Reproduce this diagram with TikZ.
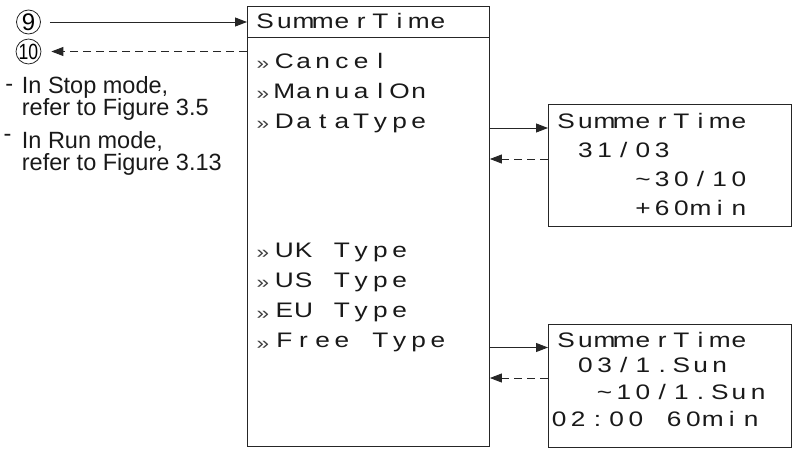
\documentclass[tikz,border=0pt]{standalone}
\usepackage{fontspec}
\setmainfont{Liberation Sans}
\newfontfamily\lcdfam[FakeStretch=1.25]{Liberation Sans}
\usetikzlibrary{arrows.meta}
\newlength\lcdw \setlength\lcdw{19.2pt}
\ExplSyntaxOn
\NewDocumentCommand\lcd{m}{\str_map_inline:nn {#1}{\str_if_eq:nnTF{##1}{_}{\hspace{\lcdw}}{\makebox[\lcdw][c]{##1}}}}
\ExplSyntaxOff
\newcommand\lcdfont{\lcdfam\fontsize{21pt}{21pt}\selectfont}
\newcommand\mk{\makebox[\lcdw][l]{\hspace{1pt}\raisebox{-1.5pt}{\color{black!75}\fontsize{18pt}{18pt}\selectfont »}}}
\begin{document}
\begin{tikzpicture}[x=1pt,y=-1pt,
  box/.style={draw=black!85,line width=0.9pt,inner sep=0pt,anchor=north west},
  lcdtxt/.style={anchor=base west,inner sep=0pt,font=\lcdfont,text=black!90},
  note/.style={anchor=base west,inner sep=0pt,font=\fontsize{23.5pt}{23.5pt}\selectfont,text=black!90},
  circ/.style={draw=black!85,circle,line width=0.8pt,inner sep=0pt,minimum size=24pt},
  conn/.style={draw=black!85,line width=0.9pt,-{Triangle[length=12pt,width=9pt]}},
  dsh/.style={dash pattern=on 8pt off 5pt}]
\useasboundingbox (0,0) rectangle (794,450);
% main menu box
\node[box,minimum width=242pt,minimum height=30.7pt] (head) at (247,6) {};
\node[box,minimum width=242pt,minimum height=409.3pt] (body) at (247,36.7) {};
\node[lcdtxt] (mtitle) at (255.4,28.3) {\lcd{SummerTime}};
\node[lcdtxt] (mcancel) at (255.4,68.3) {\mk\lcd{Cancel}};
\node[lcdtxt] (mmanual) at (255.4,98.3) {\mk\lcd{ManualOn}};
\node[lcdtxt] (mdata) at (255.4,128.3) {\mk\lcd{DataType}};
\node[lcdtxt] (muk) at (255.4,257.2) {\mk\lcd{UK_Type}};
\node[lcdtxt] (mus) at (255.4,287.4) {\mk\lcd{US_Type}};
\node[lcdtxt] (meu) at (255.4,317.5) {\mk\lcd{EU_Type}};
\node[lcdtxt] (mfree) at (255.4,347.7) {\mk\lcd{Free_Type}};
% right box 1
\node[box,minimum width=243pt,minimum height=122pt] (b1) at (548,104) {};
\node[lcdtxt] (b1a) at (556.4,128.3) {\lcd{SummerTime}};
\node[lcdtxt] (b1b) at (556.4,157.3) {\lcd{_31/03}};
\node[lcdtxt] (b1c) at (556.4,186.7) {\lcd{____~30/10}};
\node[lcdtxt] (b1d) at (556.4,215) {\lcd{____+60min}};
% right box 2
\node[box,minimum width=243pt,minimum height=123pt] (b2) at (548,324) {};
\node[lcdtxt] (b2a) at (556.4,347.7) {\lcd{SummerTime}};
\node[lcdtxt] (b2b) at (556.4,372.5) {\lcd{_03/1.Sun}};
\node[lcdtxt] (b2c) at (556.4,399.5) {\lcd{__~10/1.Sun}};
\node[lcdtxt] (b2d) at (549.3,426.5) {\lcd{02:00_60min}};
% circled numbers
\node[circ,font=\fontsize{24pt}{24pt}\selectfont] (n9) at (28.5,22) {9};
\node[circ,font=\fontsize{22pt}{22pt}\selectfont] (n10) at (28.5,51.5) {\scalebox{0.8}[1]{10}};
% notes
\node[note,anchor=base] (d1) at (9.2,91.5) {-};
\node[note] (s1) at (21.7,93.3) {In Stop mode,};
\node[note] (s2) at (21.7,115) {refer to Figure 3.5};
\node[note,anchor=base] (d2) at (7.5,141.3) {-};
\node[note] (r1) at (21.7,148.3) {In Run mode,};
\node[note] (r2) at (21.7,170) {refer to Figure 3.13};
% connectors
\coordinate (ya) at (0,128);
\coordinate (yb) at (0,159);
\coordinate (yc) at (0,347.5);
\coordinate (yd) at (0,378);
\draw[conn,shorten <=9pt] (n9) -- (n9 -| head.west);
\draw[conn,dsh,shorten >=10pt] (n10 -| body.west) -- (n10);
\draw[conn] (body.east |- ya) -- (b1.west |- ya);
\draw[conn,dsh] (b1.west |- yb) -- (body.east |- yb);
\draw[conn] (body.east |- yc) -- (b2.west |- yc);
\draw[conn,dsh] (b2.west |- yd) -- (body.east |- yd);
\end{tikzpicture}
\end{document}
